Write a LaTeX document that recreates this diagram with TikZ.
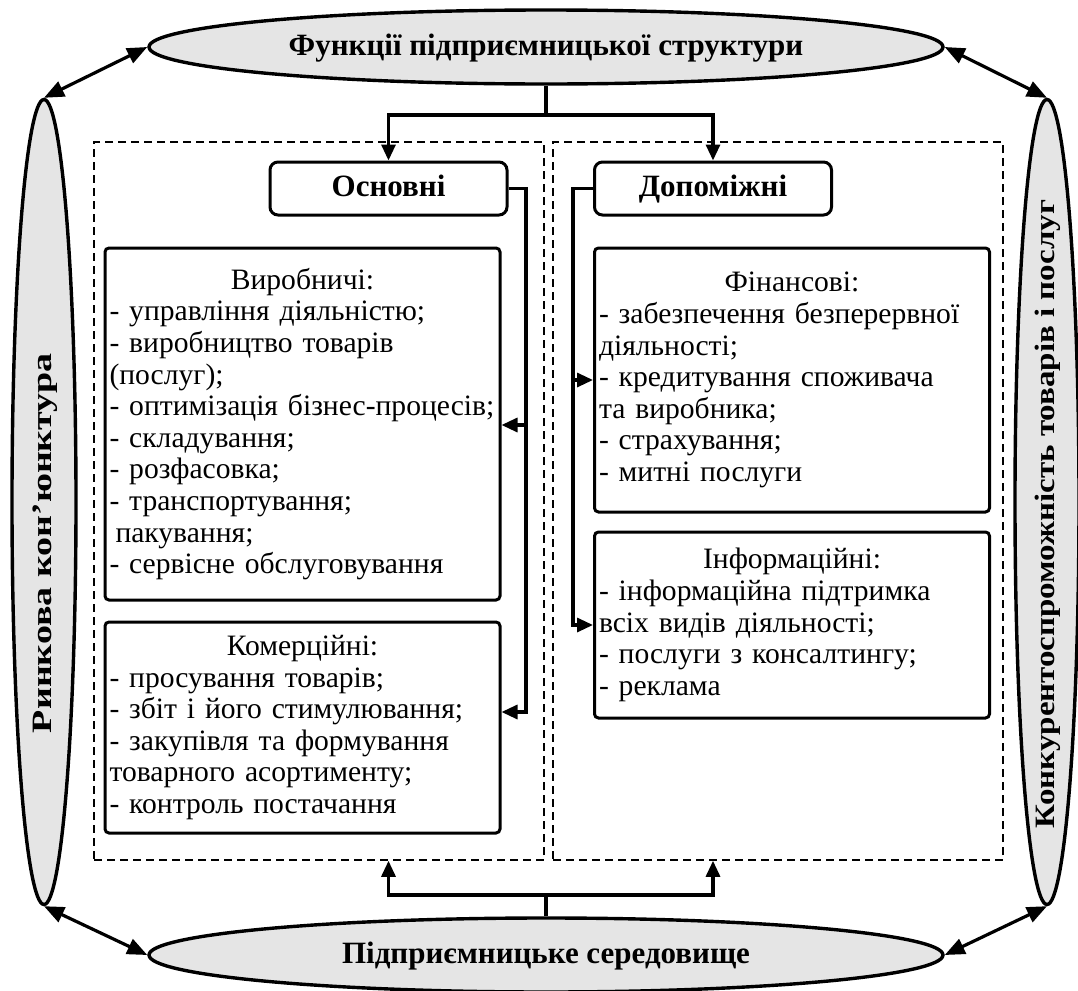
\documentclass[tikz,border=0pt]{standalone}
\usepackage{fontspec}
\setmainfont{Liberation Serif}
\usepackage{tikz}
\usetikzlibrary{shapes.geometric,arrows.meta}

\definecolor{ovalfill}{gray}{0.9}

\tikzset{
  oval/.style={ellipse, draw, line width=1.7pt, fill=ovalfill, inner sep=0pt,
    text height=11pt, text depth=3pt, font=\fontsize{15.5}{18}\selectfont\bfseries},
  sidetext/.style={rotate=90, inner sep=0pt, font=\fontsize{16.5}{19}\selectfont\bfseries},
  headbox/.style={draw, rounded corners=4pt, line width=1.5pt, minimum width=118.5pt,
    minimum height=26.5pt, text height=11pt, text depth=3pt,
    font=\fontsize{15.5}{18}\selectfont\bfseries},
  fnbox/.style={draw, rounded corners=2pt, line width=1.5pt, minimum width=197.5pt,
    text width=193pt, inner xsep=2pt, align=left, font=\fontsize{14.8}{15.8}\selectfont},
  groupframe/.style={draw, dash pattern=on 4pt off 2.5pt, line width=0.8pt,
    minimum width=225pt, minimum height=359pt},
  link/.style={line width=1.6pt, -{Triangle[length=8pt,width=7pt]}},
  twoway/.style={line width=1.6pt, {Triangle[length=10pt,width=8pt]}-{Triangle[length=10pt,width=8pt]}}
}

\begin{document}
\begin{tikzpicture}[x=0.5pt, y=-0.5pt]
  \useasboundingbox (0,0) rectangle (1078,991);

  % outer ring
  \node[oval, minimum width=397pt, minimum height=37pt] (func) at (546,47) {Функції підприємницької структури};
  \node[oval, minimum width=397pt, minimum height=37pt] (env) at (546,955) {Підприємницьке середовище};
  \node[oval, rotate=90, minimum width=402.5pt, minimum height=32pt] (market) at (44,502) {};
  \node[oval, rotate=90, minimum width=402.5pt, minimum height=32pt] (compet) at (1047,502) {};
  \node[sidetext] (markettxt) at (45,543) {\scalebox{1.15}[0.85]{Ринкова кон’юнктура}};
  \node[sidetext] (compettxt) at (1048,514) {\scalebox{1}[0.85]{Конкурентоспроможність товарів і послуг}};

  \draw[twoway] (func.west) -- (market.east);
  \draw[twoway] (func.east) -- (compet.east);
  \draw[twoway] (market.west) -- (env.west);
  \draw[twoway] (compet.west) -- (env.east);

  % two groups
  \node[groupframe] (maingrp) at (319,501) {};
  \node[groupframe] (auxgrp) at (778,501) {};

  \node[headbox] (osn) at (388.5,188.5) {Основні};
  \node[headbox] (dop) at (713,188.5) {Допоміжні};

  \node[fnbox, minimum height=176pt] (vyr) at (302.5,424) {\makebox[\hsize]{Виробничі:}\\
    - управління діяльністю;\\
    - виробництво товарів\\
    (послуг);\\
    - оптимізація бізнес-процесів;\\
    - складування;\\
    - розфасовка;\\
    - транспортування;\\
    \hspace*{3pt}пакування;\\
    - сервісне обслуговування};
  \node[fnbox, minimum height=105.5pt] (kom) at (302.5,727.5) {\makebox[\hsize]{Комерційні:}\\
    - просування товарів;\\
    - збіт і його стимулювання;\\
    - закупівля та формування\\
    товарного асортименту;\\
    - контроль постачання};
  \node[fnbox, minimum height=132pt] (fin) at (792,380) {\makebox[\hsize]{Фінансові:}\\
    - забезпечення безперервної\\
    діяльності;\\
    - кредитування споживача\\
    та виробника;\\
    - страхування;\\
    - митні послуги};
  \node[fnbox, minimum height=93pt] (inf) at (792,625) {\makebox[\hsize]{Інформаційні:}\\
    - інформаційна підтримка\\
    всіх видів діяльності;\\
    - послуги з консалтингу;\\
    - реклама};

  % branching
  \coordinate (topfork) at (546,115);
  \coordinate (botfork) at (546,895);
  \draw[link] (func.south) -- (topfork) -| (osn.north);
  \draw[link] (topfork) -| (dop.north);
  \draw[link] (env.north) -- (botfork) -| (osn |- maingrp.south);
  \draw[link] (botfork) -| (dop |- auxgrp.south);

  \coordinate (lbus) at (526,712);
  \coordinate (lmid) at (526,425);
  \draw[link] (osn.east) -| (lbus) -- (kom.east |- lbus);
  \draw[link] (lmid) -- (vyr.east |- lmid);

  \coordinate (rbus) at (573,625);
  \coordinate (rmid) at (573,380);
  \draw[link] (dop.west) -| (rbus) -- (inf.west |- rbus);
  \draw[link] (rmid) -- (fin.west |- rmid);
\end{tikzpicture}
\end{document}
